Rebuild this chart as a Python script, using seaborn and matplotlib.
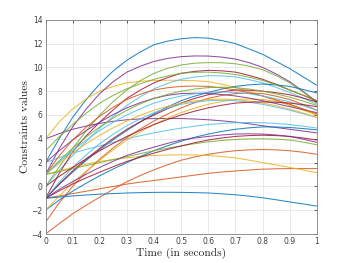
import numpy as np
import pandas as pd
import matplotlib
matplotlib.use('Agg')
import matplotlib.pyplot as plt
import seaborn as sns

# time samples (seconds)
t = [0, 0.05, 0.1, 0.15, 0.2, 0.25, 0.3, 0.35, 0.4, 0.45, 0.5,
     0.55, 0.6, 0.65, 0.7, 0.75, 0.8, 0.85, 0.9, 0.95, 1.0]

# constraint trajectories, in plot order
c01 = [2, 4.0, 5.8, 7.3, 8.6, 9.7, 10.6, 11.3, 11.9, 12.2, 12.4, 12.5, 12.45, 12.25, 12.0, 11.55, 11.1, 10.5, 9.9, 9.2, 8.5]
c02 = [-4, -3.13, -2.3, -1.58, -0.9, -0.24, 0.4, 0.92, 1.4, 1.82, 2.2, 2.48, 2.7, 2.87, 3.0, 3.07, 3.1, 3.07, 3.0, 2.87, 2.7]
c03 = [4, 5.4, 6.5, 7.35, 8.0, 8.4, 8.7, 8.83, 8.9, 8.92, 8.9, 8.88, 8.8, 8.58, 8.3, 7.97, 7.6, 7.21, 6.8, 6.4, 6.0]
c04 = [1, 3.15, 5.0, 6.5, 7.8, 8.8, 9.6, 10.1, 10.5, 10.75, 10.9, 10.96, 10.95, 10.86, 10.7, 10.4, 10.0, 9.45, 8.8, 7.98, 7.1]
c05 = [0, 1.63, 3.2, 4.67, 6.0, 7.14, 8.1, 8.89, 9.5, 9.92, 10.2, 10.35, 10.4, 10.39, 10.3, 10.11, 9.8, 9.32, 8.7, 7.93, 7.0]
c06 = [0, 1.33, 2.6, 3.78, 4.9, 5.88, 6.8, 7.54, 8.2, 8.65, 9.0, 9.18, 9.3, 9.28, 9.2, 8.97, 8.7, 8.32, 7.9, 7.42, 6.9]
c07 = [-1, 1.07, 2.9, 4.25, 5.4, 6.44, 7.4, 8.1, 8.7, 9.14, 9.5, 9.66, 9.75, 9.71, 9.6, 9.33, 9.0, 8.58, 8.1, 7.65, 7.2]
c08 = [-1, 0.15, 1.2, 2.18, 3.1, 3.92, 4.7, 5.42, 6.1, 6.68, 7.2, 7.58, 7.9, 8.18, 8.4, 8.53, 8.6, 8.53, 8.4, 8.14, 7.85]
c09 = [-1, -0.8, -0.6, -0.4, -0.2, 0.0, 0.2, 0.36, 0.5, 0.65, 0.8, 0.95, 1.1, 1.21, 1.3, 1.38, 1.45, 1.48, 1.5, 1.5, 1.5]
c10 = [1, 1.32, 1.6, 1.87, 2.1, 2.27, 2.4, 2.51, 2.6, 2.64, 2.65, 2.64, 2.6, 2.51, 2.4, 2.21, 2.0, 1.8, 1.6, 1.38, 1.15]
c11 = [4, 4.43, 4.8, 5.07, 5.3, 5.47, 5.6, 5.67, 5.7, 5.71, 5.7, 5.66, 5.6, 5.51, 5.4, 5.26, 5.1, 4.95, 4.8, 4.65, 4.5]
c12 = [3, 4.15, 5.2, 6.15, 7.0, 7.65, 8.2, 8.63, 9.0, 9.28, 9.5, 9.58, 9.6, 9.53, 9.4, 9.18, 8.9, 8.52, 8.1, 7.66, 7.2]
c13 = [2, 2.42, 2.8, 3.11, 3.4, 3.71, 4.0, 4.26, 4.5, 4.71, 4.9, 5.06, 5.2, 5.29, 5.35, 5.37, 5.35, 5.29, 5.2, 5.06, 4.9]
c14 = [-1, 0.2, 1.3, 2.3, 3.2, 4.04, 4.8, 5.44, 6.0, 6.53, 7.0, 7.39, 7.7, 7.94, 8.1, 8.08, 8.0, 7.87, 7.7, 7.42, 7.1]
c15 = [-2, -1.15, -0.4, 0.27, 0.9, 1.47, 2.0, 2.52, 3.0, 3.42, 3.8, 4.13, 4.4, 4.62, 4.8, 4.92, 5.0, 4.99, 4.95, 4.86, 4.75]
c16 = [-3, -1.4, 0.0, 1.22, 2.3, 3.24, 4.1, 4.83, 5.5, 6.08, 6.6, 7.03, 7.4, 7.64, 7.8, 7.84, 7.8, 7.58, 7.3, 6.88, 6.4]
c17 = [-2, -0.8, 0.3, 1.28, 2.2, 3.08, 3.9, 4.58, 5.2, 5.73, 6.2, 6.58, 6.9, 7.14, 7.3, 7.35, 7.3, 7.14, 6.9, 6.48, 6.0]
c18 = [2, 2.98, 3.9, 4.69, 5.4, 6.04, 6.6, 7.04, 7.4, 7.65, 7.8, 7.83, 7.8, 7.72, 7.6, 7.42, 7.2, 6.96, 6.7, 6.45, 6.2]
c19 = [1, 1.25, 1.5, 1.75, 2.0, 2.25, 2.5, 2.76, 3.0, 3.21, 3.4, 3.59, 3.75, 3.86, 3.95, 3.99, 4.0, 3.97, 3.9, 3.72, 3.5]
c20 = [-1, 0.35, 1.6, 2.65, 3.6, 4.39, 5.1, 5.69, 6.2, 6.58, 6.9, 7.08, 7.2, 7.24, 7.2, 7.07, 6.9, 6.66, 6.4, 6.1, 5.8]
c21 = [-1, -0.38, 0.2, 0.72, 1.2, 1.66, 2.1, 2.46, 2.8, 3.11, 3.4, 3.67, 3.9, 4.07, 4.2, 4.27, 4.3, 4.27, 4.2, 4.07, 3.9]
c22 = [-1, -0.89, -0.8, -0.72, -0.65, -0.6, -0.55, -0.52, -0.5, -0.49, -0.5, -0.52, -0.55, -0.62, -0.7, -0.81, -0.95, -1.12, -1.3, -1.47, -1.65]
c23 = [1, 2.55, 3.9, 4.98, 5.9, 6.66, 7.3, 7.75, 8.1, 8.29, 8.4, 8.43, 8.4, 8.28, 8.1, 7.87, 7.6, 7.27, 6.9, 6.51, 6.1]
c24 = [1, 1.94, 2.8, 3.59, 4.3, 4.93, 5.5, 5.98, 6.4, 6.73, 7.0, 7.18, 7.3, 7.33, 7.3, 7.18, 7.0, 6.78, 6.5, 6.17, 5.8]
c25 = [-1, -0.25, 0.4, 1.03, 1.6, 2.12, 2.6, 2.97, 3.3, 3.62, 3.9, 4.07, 4.2, 4.32, 4.4, 4.42, 4.4, 4.32, 4.2, 3.97, 3.7]
c26 = [1, 2.15, 3.2, 4.15, 5.0, 5.75, 6.4, 6.94, 7.4, 7.73, 8.0, 8.18, 8.3, 8.33, 8.3, 8.18, 8.0, 7.77, 7.5, 7.17, 6.8]
c27 = [1, 2.05, 3.0, 3.89, 4.7, 5.39, 6.0, 6.53, 7.0, 7.33, 7.6, 7.78, 7.9, 7.93, 7.9, 7.78, 7.6, 7.37, 7.1, 6.77, 6.4]
c28 = [0, 0.83, 1.6, 2.32, 3.0, 3.62, 4.2, 4.72, 5.2, 5.62, 6.0, 6.32, 6.6, 6.82, 7.0, 7.07, 7.1, 7.07, 7.0, 6.87, 6.7]

curves = [c01, c02, c03, c04, c05, c06, c07, c08, c09, c10, c11, c12, c13, c14,
          c15, c16, c17, c18, c19, c20, c21, c22, c23, c24, c25, c26, c27, c28]

xticks = [0, 0.1, 0.2, 0.3, 0.4, 0.5, 0.6, 0.7, 0.8, 0.9, 1]
xtick_labels = ['0', '0.1', '0.2', '0.3', '0.4', '0.5', '0.6', '0.7', '0.8', '0.9', '1']

# MATLAB default colour order
matlab = ['#0072BD', '#D95319', '#EDB120', '#7E2F8E', '#77AC30', '#4DBEEE', '#A2142F']

rows = []
for i, c in enumerate(curves):
    for tt, v in zip(t, c):
        rows.append({'t': tt, 'value': v, 'curve': i})
df = pd.DataFrame(rows)

sns.set_style('white')
fig = plt.figure(figsize=(3.5, 2.63), dpi=100)
ax = fig.add_axes([0.13, 0.11, 0.775, 0.815])

palette = [matlab[i % 7] for i in range(len(curves))]
sns.lineplot(data=df, x='t', y='value', hue='curve', palette=palette,
             legend=False, sort=False, linewidth=0.75, alpha=0.85, ax=ax)

ax.set_xlim(0, 1)
ax.set_ylim(-4, 14)
ax.set_xticks(xticks)
ax.set_xticklabels(xtick_labels)
ax.set_yticks(range(-4, 15, 2))
ax.grid(True, color='#e6e6e6', linewidth=0.6)
ax.tick_params(direction='in', length=2.5, width=0.6, labelsize=5.5,
               colors='#404040', top=True, right=True, pad=2)
for s in ax.spines.values():
    s.set_color('#808080')
    s.set_linewidth(0.6)

ax.set_xlabel('Time (in seconds)', fontfamily='cmr10', fontsize=8.3, labelpad=1)
ax.set_ylabel('Constraints values', fontfamily='cmr10', fontsize=8.3, labelpad=1)

fig.savefig('out.png', dpi=100)
